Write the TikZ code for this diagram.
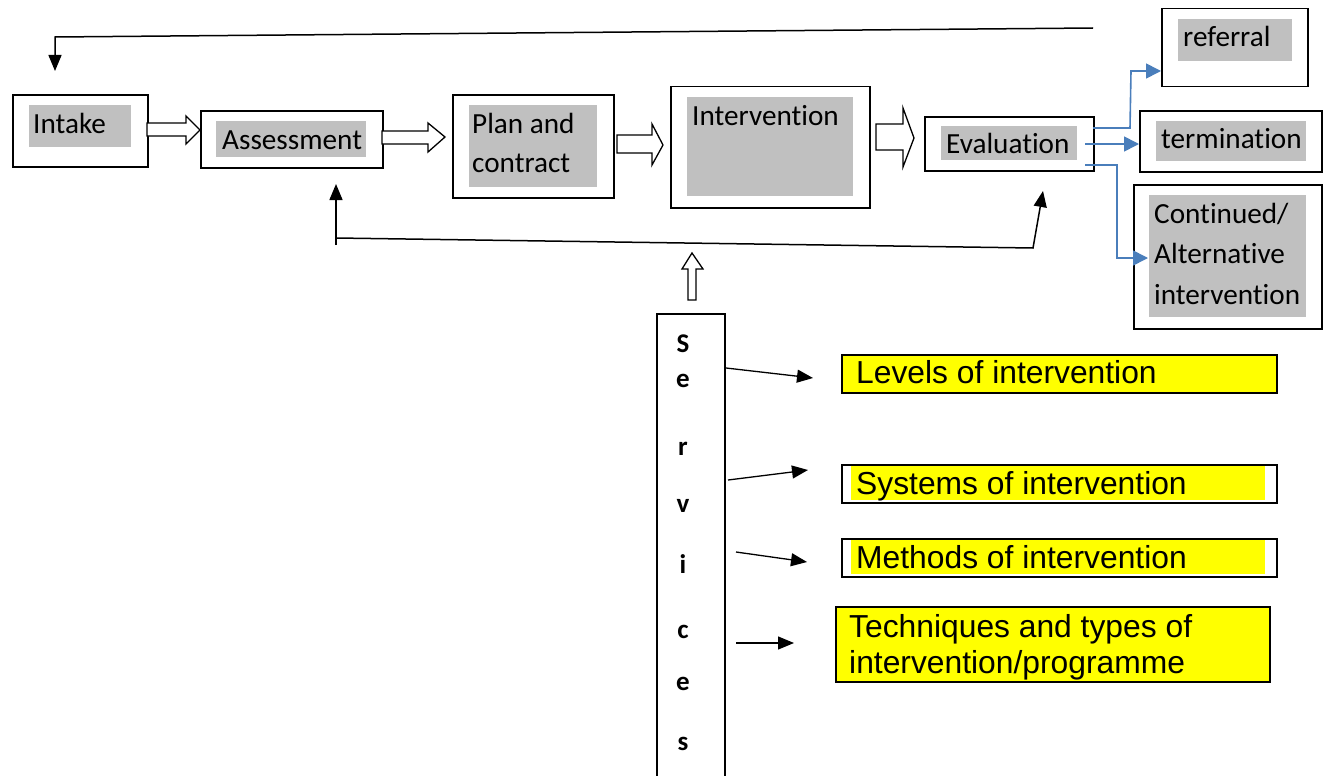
\documentclass[tikz,border=0pt]{standalone}
\usepackage{fontspec}
\setmainfont{Carlito}[Ligatures=NoCommon]
\newfontfamily\arialf{Liberation Sans}
\usetikzlibrary{arrows.meta}
\definecolor{greyhl}{HTML}{C0C0C0}
\definecolor{yel}{HTML}{FFFF00}
\definecolor{blu}{HTML}{4A7EBB}
\tikzset{
  box/.style={draw=black, line width=1.5pt, anchor=north west, inner sep=0pt, fill=white},
  ybox/.style={box, fill=yel},
  lbl/.style={anchor=base west, inner sep=0pt, font=\fontsize{29.2}{35}\selectfont},
  ylbl/.style={anchor=base west, inner sep=0pt, font=\arialf\fontsize{31.8}{36}\selectfont},
  slbl/.style={anchor=base, inner sep=0pt, font=\bfseries\fontsize{27}{30}\selectfont},
  hollow/.style={draw=black, fill=white, line width=1.3pt, line join=miter},
  conn/.style={draw=black, line width=1.5pt},
  blk/.style={conn, -{Triangle[width=13pt,length=16pt]}},
  bconn/.style={draw=blu, line width=1.6pt, -{Triangle[width=15pt,length=15pt]}},
}
\begin{document}
\begin{tikzpicture}[x=1pt,y=-1pt]
\useasboundingbox (0,0) rectangle (1323,776);
% main process boxes
\node[box, minimum width=135pt, minimum height=72pt] (intake) at (12,94) {};
\node[box, minimum width=182pt, minimum height=57pt] (assess) at (200,110) {};
\node[box, minimum width=161pt, minimum height=103pt] (plan) at (452,94) {};
\node[box, minimum width=199pt, minimum height=121pt] (interv) at (670,86) {};
\node[box, minimum width=169pt, minimum height=54pt] (eval) at (924,116) {};
\node[box, minimum width=146pt, minimum height=78pt] (refer) at (1161,8) {};
\node[box, minimum width=182pt, minimum height=61pt] (term) at (1139,110) {};
\node[box, minimum width=188pt, minimum height=144pt] (cont) at (1133,184) {};
\node[box, minimum width=68pt, minimum height=480pt] (serv) at (656,313) {};
% grey highlights
\fill[greyhl] (29,105) rectangle (131,147);
\fill[greyhl] (216,121) rectangle (366,157);
\fill[greyhl] (469,105) rectangle (597,187);
\fill[greyhl] (687,97) rectangle (853,196);
\fill[greyhl] (941,126) rectangle (1077,160);
\fill[greyhl] (1178,19) rectangle (1292,61);
\fill[greyhl] (1156,121) rectangle (1306,161);
\fill[greyhl] (1149,195) rectangle (1306,317);
% labels
\node[lbl] (tintake) at (33,133) {Intake};
\node[lbl] (tassess) at (222,149) {Assessment};
\node[lbl] (tplan1) at (472,133) {Plan and};
\node[lbl] (tplan2) at (472,172) {contract};
\node[lbl] (tinterv) at (692,125) {Intervention};
\node[lbl] (teval) at (946,153) {Evaluation};
\node[lbl] (trefer) at (1183,47) {referral};
\node[lbl] (tterm) at (1161,148) {termination};
\node[lbl] (tcont1) at (1154,223) {Continued/};
\node[lbl] (tcont2) at (1154,263) {Alternative};
\node[lbl] (tcont3) at (1154,304) {intervention};
% yellow boxes
\node[ybox, minimum width=435pt, minimum height=38pt] (levels) at (841,354) {};
\node[box, minimum width=435pt, minimum height=38pt] (systems) at (841,464) {};
\node[box, minimum width=435pt, minimum height=38pt] (methods) at (841,538) {};
\node[ybox, minimum width=434pt, minimum height=75pt] (tech) at (835,606) {};
\fill[yel] (851,466) rectangle (1265,500);
\fill[yel] (851,540) rectangle (1265,574);
\node[ylbl] (tlevels) at (856,383) {Levels of intervention};
\node[ylbl] (tsystems) at (856,494) {Systems of intervention};
\node[ylbl] (tmethods) at (856,568) {Methods of intervention};
\node[ylbl] (ttech1) at (849,637) {Techniques and types of};
\node[ylbl] (ttech2) at (849,673) {intervention/programme};
% Services letters
\node[slbl] (s1) at (683,352) {S};
\node[slbl] (s2) at (683,387) {e};
\node[slbl] (s3) at (683,455) {r};
\node[slbl] (s4) at (683,512) {v};
\node[slbl] (s5) at (683,573) {i};
\node[slbl] (s6) at (683,638) {c};
\node[slbl] (s7) at (683,690) {e};
\node[slbl] (s8) at (683,750) {s};
% hollow block arrows
\draw[hollow] (147,123) -- (186,123) -- (186,116) -- (200,130) -- (186,144) -- (186,136) -- (147,136) -- cycle;
\draw[hollow] (382,131) -- (428,131) -- (428,123) -- (445,137) -- (428,152) -- (428,144) -- (382,144) -- cycle;
\draw[hollow] (617,135) -- (652,135) -- (652,124) -- (663,145) -- (652,165) -- (652,153) -- (617,153) -- cycle;
\draw[hollow] (876,124) -- (903,124) -- (903,108) -- (914,138) -- (903,167) -- (903,150) -- (876,150) -- cycle;
\draw[hollow] (688,300) -- (688,269) -- (682,269) -- (692,253) -- (703,269) -- (696,269) -- (696,300) -- cycle;
% top feedback line
\coordinate (topR) at (1093,28);
\coordinate (topL) at (55,37);
\coordinate (intakeIn) at (55,71);
\draw[blk] (topR) -- (topL) -- (intakeIn);
% bottom feedback lines
\coordinate (bl0) at (336,245);
\coordinate (blA) at (336,184);
\coordinate (blH) at (336,238);
\coordinate (brH) at (1033,248);
\coordinate (brA) at (1043,191);
\draw[blk] (bl0) -- (blA);
\draw[blk] (blH) -- (brH) -- (brA);
% blue outcome arrows
\coordinate (e1) at (1093,128);
\coordinate (e2) at (1085,144);
\coordinate (e3) at (1085,165);
\draw[bconn] (e1) -- (1130,128) -- (1131,71) -- (refer.west |- 0,71);
\draw[bconn] (e2) -- (term.west |- 0,144);
\draw[bconn] (e3) -- (1117,165) -- (1117,258) -- (1148,258);
% services arrows
\coordinate (a1s) at (726,368); \coordinate (a1e) at (813,378);
\coordinate (a2s) at (728,480); \coordinate (a2e) at (808,470);
\coordinate (a3s) at (736,552); \coordinate (a3e) at (807,562);
\coordinate (a4s) at (736,643); \coordinate (a4e) at (794,643);
\draw[blk, line width=1.3pt] (a1s) -- (a1e);
\draw[blk, line width=1.3pt] (a2s) -- (a2e);
\draw[blk, line width=1.3pt] (a3s) -- (a3e);
\draw[blk, line width=1.3pt] (a4s) -- (a4e);
\end{tikzpicture}
\end{document}
